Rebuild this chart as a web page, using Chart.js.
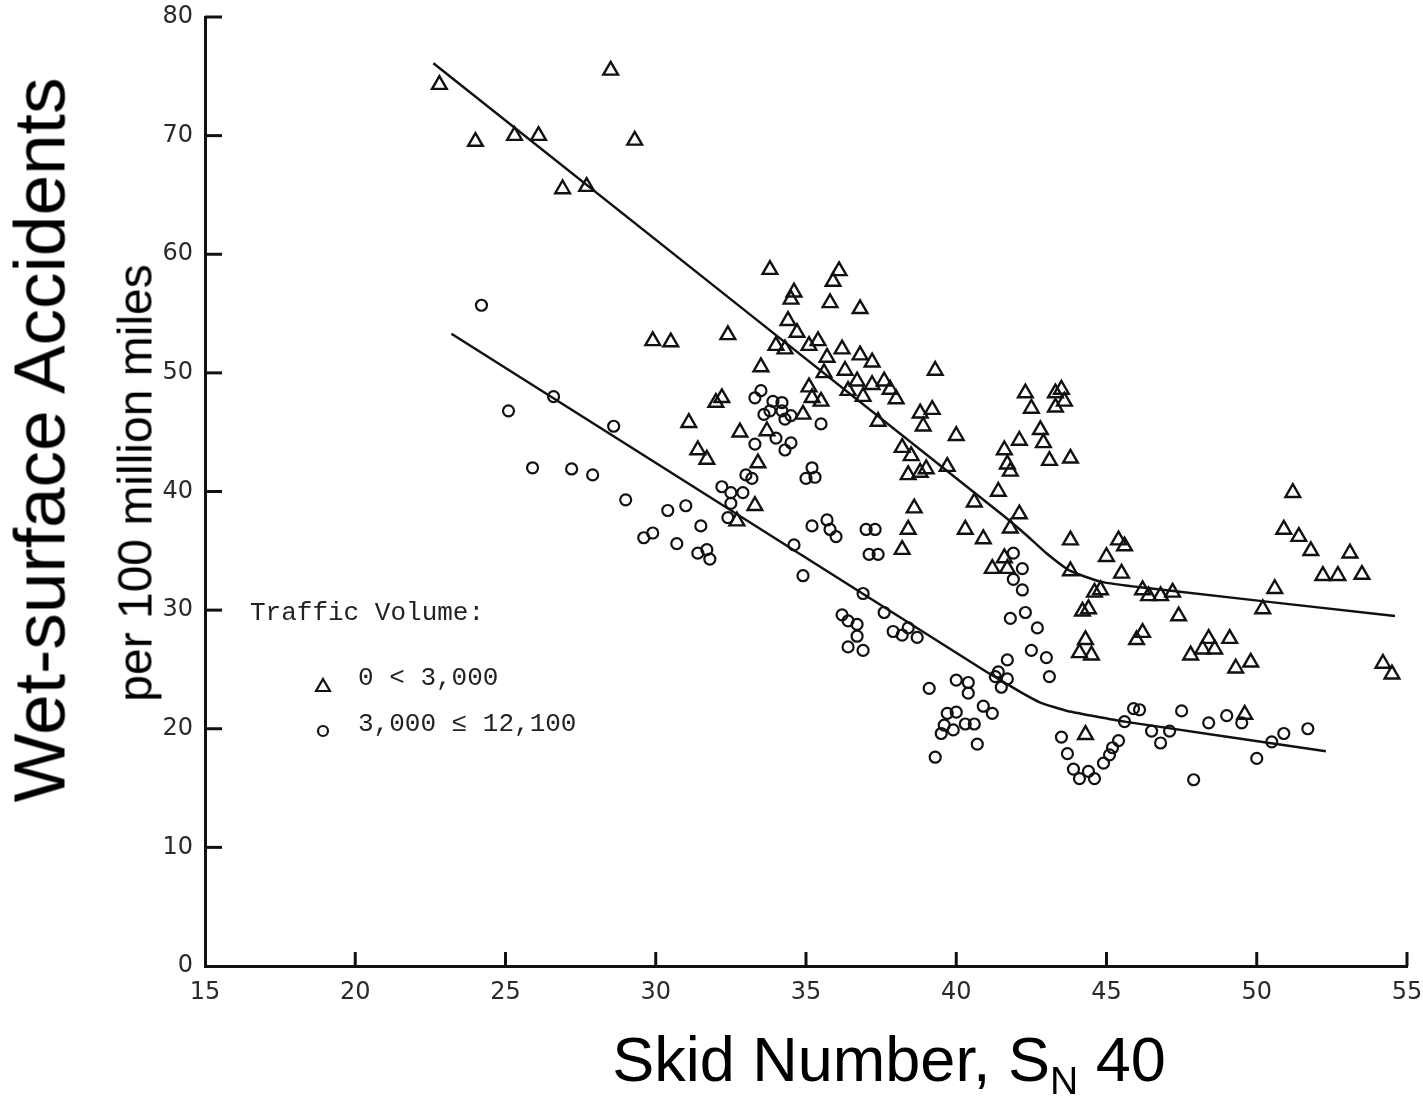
<!DOCTYPE html>
<html>
<head>
<meta charset="utf-8">
<script src="https://cdn.jsdelivr.net/npm/chart.js@4"></script>
<style>
  html, body { margin: 0; padding: 0; background: #fff; }
  #wrap { position: relative; width: 1423px; height: 1100px; overflow: hidden; }
  #chart { position: absolute; left: 0; top: 0; }
  .title { position: absolute; font-family: "Liberation Sans", Arial, sans-serif; color: #000; white-space: nowrap; }
  .vert { transform: translate(-50%, -50%) rotate(-90deg); }
  #ytitle { left: 39px; top: 440px; font-size: 73px; }
  #ysub { left: 135px; top: 483px; font-size: 48px; }
  #xtitle { left: 889px; top: 1063px; font-size: 63px; transform: translate(-50%, -50%); }
  #xtitle sub { font-size: 62%; vertical-align: -0.35em; }
</style>
</head>
<body>
<div id="wrap">
  <canvas id="chart" width="1423" height="1100"></canvas>
  <div class="title vert" id="ytitle">Wet-surface Accidents</div>
  <div class="title vert" id="ysub">per 100 million miles</div>
  <div class="title" id="xtitle">Skid Number, S<sub>N</sub> 40</div>
</div>
<script>
// traffic volume 0 < 3,000 (triangles)
const lowVolX = [22.8, 24.0, 25.3, 26.1, 26.9, 27.7, 28.5, 29.3, 29.9, 30.5, 31.1, 31.4, 31.7, 32.0, 32.2, 32.4, 32.7, 32.8, 33.3, 33.4,
  33.5, 33.7, 33.8, 34.0, 34.3, 34.4, 34.5, 34.6, 34.7, 34.9, 35.1, 35.1, 35.2, 35.4, 35.5, 35.6, 35.7, 35.8, 35.9, 36.1,
  36.2, 36.3, 36.4, 36.7, 36.8, 36.8, 36.9, 37.2, 37.2, 37.4, 37.6, 37.8, 38.0, 38.2, 38.2, 38.4, 38.4, 38.5, 38.6, 38.8,
  38.8, 38.9, 39.0, 39.2, 39.3, 39.7, 40.0, 40.3, 40.6, 40.9, 41.2, 41.4, 41.6, 41.6, 41.7, 41.7, 41.8, 41.8, 42.1, 42.1,
  42.3, 42.5, 42.8, 42.9, 43.1, 43.3, 43.5, 43.6, 43.3, 43.8, 43.8, 43.8, 44.1, 44.2, 44.3, 44.3, 44.4, 44.5, 44.6, 44.8,
  45.0, 45.4, 45.5, 45.6, 46.0, 46.2, 46.2, 46.4, 46.8, 47.2, 47.4, 47.8, 48.2, 48.4, 48.6, 49.1, 49.3, 49.6, 49.8, 50.2,
  50.6, 50.9, 51.2, 51.4, 51.8, 52.2, 52.7, 53.1, 53.5, 54.2, 54.5];
const lowVolY = [74.3, 69.5, 70.0, 70.0, 65.5, 65.7, 75.5, 69.6, 52.7, 52.6, 45.8, 43.5, 42.7, 47.5, 47.9, 53.2, 37.5, 45.0, 38.8, 42.4,
  50.5, 45.1, 58.7, 52.3, 52.0, 54.4, 56.2, 56.8, 53.4, 46.5, 52.3, 48.8, 47.9, 52.7, 47.6, 50.0, 51.3, 55.9, 57.7, 58.6,
  52.0, 50.2, 48.5, 49.3, 55.4, 51.5, 48.0, 50.9, 49.0, 45.9, 49.3, 48.6, 47.8, 43.7, 35.1, 41.4, 36.8, 43.0, 38.6, 46.6,
  41.6, 45.5, 41.9, 46.9, 50.2, 42.1, 44.7, 36.8, 39.1, 36.0, 33.5, 40.0, 43.5, 34.4, 42.3, 33.5, 41.7, 36.9, 44.3, 38.1,
  48.3, 47.0, 45.2, 44.1, 42.6, 48.3, 48.6, 47.6, 47.1, 42.8, 35.9, 33.3, 26.4, 29.9, 27.5, 19.5, 30.1, 26.2, 31.5, 31.7,
  34.5, 35.9, 33.1, 35.4, 27.5, 28.1, 31.7, 31.2, 31.2, 31.5, 29.5, 26.2, 26.7, 27.6, 26.7, 27.6, 25.1, 21.2, 25.6, 30.1,
  31.8, 36.8, 39.9, 36.2, 35.0, 32.9, 32.9, 34.8, 33.0, 25.5, 24.6];

// traffic volume 3,000 - 12,100 (circles)
const highVolX = [24.2, 25.1, 25.9, 26.6, 27.2, 27.9, 28.6, 29.0, 29.6, 29.9, 30.4, 30.7, 31.0, 31.4, 31.5, 31.7, 31.8, 32.2, 32.4, 32.5,
  32.5, 32.9, 33.0, 33.2, 33.3, 33.3, 33.5, 33.6, 33.8, 33.9, 34.0, 34.2, 34.2, 34.3, 34.3, 34.5, 34.5, 34.6, 34.9, 35.0,
  35.2, 35.3, 35.2, 35.5, 35.7, 35.8, 36.0, 36.2, 36.4, 36.4, 36.7, 36.7, 36.9, 36.9, 37.0, 37.3, 37.1, 37.4, 37.6, 37.9,
  38.2, 38.4, 38.7, 39.1, 39.3, 39.5, 39.6, 39.7, 39.9, 40.0, 40.0, 40.3, 40.4, 40.4, 40.6, 40.7, 40.9, 41.2, 41.3, 41.4,
  41.5, 41.7, 41.7, 41.8, 41.9, 41.9, 42.2, 42.2, 42.3, 42.5, 42.7, 43.0, 43.1, 43.5, 43.7, 43.9, 44.1, 44.4, 44.6, 44.9,
  45.1, 45.2, 45.4, 45.6, 45.9, 46.1, 46.5, 46.8, 47.1, 47.5, 47.9, 48.4, 49.0, 49.5, 50.0, 50.5, 50.9, 51.7];
const highVolY = [55.7, 46.8, 42.0, 48.0, 41.9, 41.4, 45.5, 39.3, 36.1, 36.5, 38.4, 35.6, 38.8, 34.8, 37.1, 35.1, 34.3, 40.4, 37.8, 39.9,
  39.0, 39.9, 41.4, 41.1, 47.9, 44.0, 48.5, 46.5, 46.8, 47.6, 44.5, 47.5, 46.8, 46.1, 43.5, 46.4, 44.1, 35.5, 32.9, 41.1,
  42.0, 41.2, 37.1, 45.7, 37.6, 36.8, 36.2, 29.6, 29.1, 26.9, 28.8, 27.8, 26.6, 31.4, 36.8, 36.8, 34.7, 34.7, 29.8, 28.2,
  27.9, 28.5, 27.7, 23.4, 17.6, 19.6, 20.3, 21.3, 19.9, 21.4, 24.1, 20.4, 23.9, 23.0, 20.4, 18.7, 21.9, 21.3, 24.4, 24.8,
  23.5, 24.2, 25.8, 29.3, 34.8, 32.6, 33.5, 31.7, 29.8, 26.6, 28.5, 26.0, 24.4, 19.3, 17.9, 16.6, 15.8, 16.4, 15.8, 17.1,
  17.8, 18.4, 19.0, 20.6, 21.7, 21.6, 19.8, 18.8, 19.8, 21.5, 15.7, 20.5, 21.1, 20.5, 17.5, 18.9, 19.6, 20.0];

// fitted curves
const lowFitX = [22.6, 41.5, 42.3, 43.0, 43.8, 44.8, 46.2, 54.6];
const lowFitY = [76.1, 38.1, 36.4, 34.8, 33.3, 32.4, 31.9, 29.5];
const highFitX = [23.2, 41.0, 41.6, 42.2, 42.8, 43.7, 45.6, 52.3];
const highFitY = [53.3, 24.8, 23.9, 23.0, 22.2, 21.5, 20.6, 18.1];

const legendTitle = 'Traffic Volume:';
const legendLabels = ['0 < 3,000', '3,000 \u2264 12,100'];

function pts(xs, ys){
  return xs.map((x, i) => ({x: x, y: ys[i]}));
}

const ink = '#111';

// inward tick marks on both axes
const innerTicks = {
  id: 'innerTicks',
  afterDraw(chart){
    const ctx = chart.ctx;
    const xs = chart.scales.x, ys = chart.scales.y;
    ctx.save();
    ctx.strokeStyle = ink;
    ctx.lineWidth = 3;
    xs.ticks.forEach(t => {
      if(t.value === xs.min) return;
      const px = xs.getPixelForValue(t.value);
      ctx.beginPath();
      ctx.moveTo(px, ys.bottom);
      ctx.lineTo(px, ys.bottom - 14);
      ctx.stroke();
    });
    ys.ticks.forEach(t => {
      if(t.value === ys.min) return;
      const py = ys.getPixelForValue(t.value);
      ctx.beginPath();
      ctx.moveTo(xs.left, py);
      ctx.lineTo(xs.left + 17, py);
      ctx.stroke();
    });
    ctx.restore();
  }
};

// legend box drawn inside the plot like in the original figure
const innerLegend = {
  id: 'innerLegend',
  afterDraw(chart){
    const ctx = chart.ctx;
    const area = chart.chartArea;
    const left = area.left + 45;
    const top = area.top + 596;
    ctx.save();
    ctx.fillStyle = '#222';
    ctx.font = '26px "Liberation Mono", "DejaVu Sans Mono", monospace';
    ctx.textBaseline = 'middle';
    ctx.fillText(legendTitle, left, top);
    const styles = [{style: 'triangle', r: 8, dy: 9}, {style: 'circle', r: 5, dy: 7}];
    legendLabels.forEach((lab, i) => {
      const y = top + 65 + i * 46;
      ctx.strokeStyle = ink;
      ctx.fillStyle = 'rgba(0,0,0,0)';
      ctx.lineWidth = 2.2;
      Chart.helpers.drawPoint(ctx, {pointStyle: styles[i].style, radius: styles[i].r, borderWidth: 2.2}, left + 73, y + styles[i].dy);
      ctx.fillStyle = '#222';
      ctx.fillText(lab, left + 108, y);
    });
    ctx.restore();
  }
};

new Chart(document.getElementById('chart').getContext('2d'), {
  type: 'scatter',
  data: {
    datasets: [
      {
        label: legendLabels[0],
        data: pts(lowVolX, lowVolY),
        pointStyle: 'triangle',
        pointRadius: 8.5,
        borderWidth: 2.4,
        borderColor: ink,
        backgroundColor: 'rgba(255,255,255,0)'
      },
      {
        label: legendLabels[1],
        data: pts(highVolX, highVolY),
        pointStyle: 'circle',
        pointRadius: 5.5,
        borderWidth: 2.2,
        borderColor: ink,
        backgroundColor: 'rgba(255,255,255,0)'
      },
      {
        label: 'fit low',
        data: pts(lowFitX, lowFitY),
        showLine: true,
        tension: 0.15,
        pointRadius: 0,
        borderWidth: 2.5,
        borderColor: ink
      },
      {
        label: 'fit high',
        data: pts(highFitX, highFitY),
        showLine: true,
        tension: 0.15,
        pointRadius: 0,
        borderWidth: 2.5,
        borderColor: ink
      }
    ]
  },
  options: {
    responsive: false,
    animation: false,
    layout: { padding: { left: 0, right: 16, top: 17, bottom: 94 } },
    plugins: {
      legend: { display: false },
      tooltip: { enabled: false }
    },
    scales: {
      x: {
        type: 'linear',
        min: 15, max: 55,
        afterFit(scale){
          scale.height = 40;
          scale.paddingLeft = 0;
          scale.paddingRight = 0;
        },
        grid: { display: false, drawTicks: false },
        border: { display: true, color: ink, width: 3 },
        ticks: {
          stepSize: 5,
          padding: 12,
          color: '#2a2a2a',
          font: { family: '"DejaVu Sans", sans-serif', size: 24 }
        }
      },
      y: {
        type: 'linear',
        min: 0, max: 80,
        afterFit(scale){
          scale.width = 205;
          scale.paddingTop = 0;
          scale.paddingBottom = 0;
        },
        grid: { display: false, drawTicks: false },
        border: { display: true, color: ink, width: 3 },
        ticks: {
          stepSize: 10,
          padding: 12,
          color: '#2a2a2a',
          font: { family: '"DejaVu Sans", sans-serif', size: 24 }
        }
      }
    }
  },
  plugins: [innerTicks, innerLegend]
});
</script>
</body>
</html>
